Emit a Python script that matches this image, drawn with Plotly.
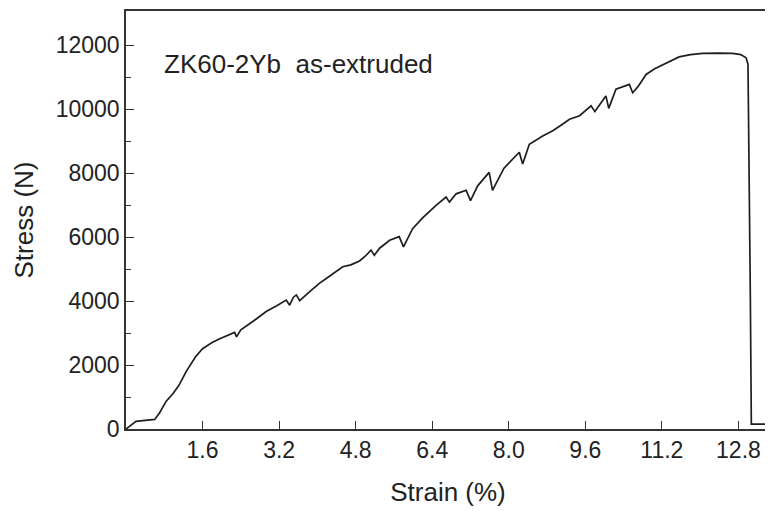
import plotly.graph_objects as go

strain = [0, 0.21, 0.4, 0.6, 0.7, 0.84, 0.98, 1.1, 1.26, 1.45, 1.6, 1.8, 1.96, 2.15, 2.27, 2.31,
          2.4, 2.65, 2.93, 3.15, 3.35, 3.42, 3.5, 3.56, 3.63, 3.84, 4.04, 4.2, 4.39, 4.53, 4.7,
          4.88, 5.0, 5.12, 5.19, 5.3, 5.51, 5.71, 5.8, 5.99, 6.2, 6.48, 6.69, 6.76, 6.9, 7.11,
          7.2, 7.35, 7.59, 7.66, 7.9, 8.22, 8.29, 8.43, 8.7, 8.92, 9.1, 9.27, 9.48, 9.72, 9.8,
          9.9, 10.03, 10.09, 10.24, 10.52, 10.59, 10.7, 10.87, 11.05, 11.22, 11.4, 11.56, 11.8,
          12.05, 12.4, 12.68, 12.85, 12.96, 13.0, 13.02, 13.05, 13.07, 13.3, 13.6]
stress = [0, 240, 270, 300, 500, 870, 1100, 1350, 1800, 2250, 2510, 2700, 2820, 2950, 3020, 2880,
          3100, 3360, 3670, 3850, 4030, 3870, 4120, 4190, 4010, 4290, 4550, 4720, 4910, 5070, 5130,
          5250, 5400, 5590, 5430, 5650, 5900, 6010, 5690, 6260, 6600, 6990, 7250, 7090, 7350, 7460,
          7140, 7600, 8020, 7460, 8150, 8650, 8280, 8900, 9150, 9320, 9500, 9680, 9790, 10100, 9920,
          10150, 10410, 10020, 10620, 10770, 10510, 10700, 11080, 11260, 11390, 11530, 11630, 11700,
          11740, 11750, 11740, 11700, 11600, 11400, 9000, 4000, 150, 150, 150]

x_ticks = [1.6, 3.2, 4.8, 6.4, 8.0, 9.6, 11.2, 12.8]
x_tick_labels = ["1.6", "3.2", "4.8", "6.4", "8.0", "9.6", "11.2", "12.8"]
y_ticks = [0, 2000, 4000, 6000, 8000, 10000, 12000]
y_tick_labels = ["0", "2000", "4000", "6000", "8000", "10000", "12000"]
y_minor_ticks = [1000, 3000, 5000, 7000, 9000, 11000]

FONT = "Liberation Sans, Arial, sans-serif"
AX = "#333333"
TXT = "#222222"

fig = go.Figure()
fig.add_trace(go.Scatter(x=strain, y=stress, mode="lines",
                         line=dict(color="#1e1e1e", width=1.7), showlegend=False))

# page body has an 8px margin, so the figure is sized to fit inside it
fig.update_layout(
    width=765, height=503,
    margin=dict(l=118, r=2, t=1, b=82),
    paper_bgcolor="white", plot_bgcolor="white",
    font=dict(family=FONT, color=TXT),
)
fig.update_xaxes(
    range=[0, 13.46], tickvals=x_ticks, ticktext=x_tick_labels,
    ticks="inside", ticklen=8, tickwidth=1.3, tickcolor=AX,
    showline=True, linecolor=AX, linewidth=1.6, mirror=True,
    showgrid=False, zeroline=False,
    tickfont=dict(size=23, family=FONT, color=TXT),
    ticklabelstandoff=0,
    title=dict(text="Strain (%)", font=dict(size=26, family=FONT, color=TXT), standoff=20),
)
fig.update_yaxes(
    range=[0, 13064], tickvals=y_ticks, ticktext=y_tick_labels,
    ticks="inside", ticklen=8, tickwidth=1.3, tickcolor=AX,
    minor=dict(tickvals=y_minor_ticks, ticks="inside", ticklen=5,
               tickwidth=1.2, tickcolor=AX),
    showline=True, linecolor=AX, linewidth=1.6, mirror=True,
    showgrid=False, zeroline=False,
    tickfont=dict(size=23, family=FONT, color=TXT),
    ticklabelstandoff=0,
    title=dict(text="Stress (N)", font=dict(size=26, family=FONT, color=TXT), standoff=15),
)
fig.add_annotation(x=(162 - 126) / 645, y=(429 - 62) / 420, xref="paper", yref="paper",
                   text="ZK60-2Yb  as-extruded",
                   showarrow=False, font=dict(size=26, family=FONT, color=TXT),
                   xanchor="left", yanchor="middle")

fig.write_html("out.html")
